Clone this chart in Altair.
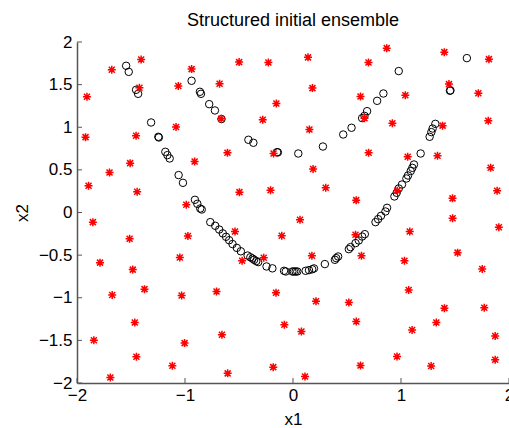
import altair as alt
import pandas as pd

# Red asterisks (x1, x2)
star_x = [-1.406, -1.678, -0.939, -1.908, -1.422, -1.062, -0.680, -0.665, -1.921, -1.453,
          -1.083, -1.508, -1.699, -0.911, -1.893, -1.443, -0.988, -0.499, -0.228, 0.139,
          0.699, 0.868, 0.180, -0.154, 0.625, -0.280, 0.152, -0.607, -0.180, 0.700,
          0.186, 0.303, -0.496, -0.208, 0.585, 1.401, 1.814, 1.444, 1.040, 1.716,
          0.920, 1.385, 1.808, 1.062, 1.338, 1.830, 0.965, 1.890, 1.477, 0.662,
          -1.853, -1.513, -0.973, -1.787, -1.484, -1.048, -1.674, -1.375, -1.031, -0.708,
          -1.465, -1.844, -1.004, -0.658, -1.450, -1.117, -1.691, -0.605, 0.065, -0.537,
          -0.104, 0.579, -0.271, -0.471, 0.175, 0.634, -0.157, 0.213, 0.517, -0.080,
          0.078, 0.586, -0.183, 0.111, 0.625, 1.478, 1.906, 1.081, 1.032, 1.524,
          1.752, 1.071, 1.402, 1.771, 1.327, 1.103, 1.872, 0.963, 1.279, 1.872]
star_y = [1.795, 1.674, 1.682, 1.357, 1.463, 1.483, 1.510, 1.099, 0.884, 0.900,
          1.002, 0.579, 0.469, 0.598, 0.313, 0.243, 0.092, 1.764, 1.760, 1.820,
          1.760, 1.928, 1.459, 1.279, 1.361, 1.087, 0.974, 0.700, 0.692, 0.700,
          0.511, 0.291, 0.239, 0.260, 0.145, 1.881, 1.799, 1.506, 1.375, 1.398,
          1.046, 1.019, 1.076, 0.653, 0.665, 0.525, 0.255, 0.255, 0.166, 1.105,
          -0.113, -0.309, -0.275, -0.588, -0.670, -0.528, -0.967, -0.899, -0.973, -0.926,
          -1.290, -1.499, -1.532, -1.435, -1.692, -1.798, -1.935, -1.887, -0.084, -0.223,
          -0.273, -0.262, -0.531, -0.567, -0.508, -0.508, -0.942, -1.040, -1.056, -1.317,
          -1.396, -1.279, -1.814, -1.924, -1.795, -0.068, -0.174, -0.223, -0.567, -0.471,
          -0.662, -0.909, -1.122, -1.118, -1.290, -1.378, -1.448, -1.689, -1.800, -1.728]

# Black circles (x1, x2)
circ_x = [-1.545, -1.521, -1.453, -1.434, -1.314, -1.247, -1.242, -1.182, -1.163, -1.142,
          -1.059, -1.019, -0.908, -0.886, -0.859, -0.845, -0.766, -0.720, -0.683, -0.650,
          -0.620, -0.591, -0.560, -0.520, -0.483, -0.420, -0.395, -0.375, -0.360, -0.340,
          -0.322, -0.245, -0.191, -0.083, -0.067, -0.006, 0.009, 0.025, 0.040, 0.117,
          0.148, 0.178, 0.194, 0.295, 0.388, 0.400, 0.418, 0.517, 0.533, 0.579,
          0.609, 0.640, 0.665, 0.764, 0.788, 0.815, 0.856, 0.871, 0.939, 0.960,
          0.979, 1.009, 1.050, 1.065, 1.090, 1.105, 1.120, 1.182, 1.265, 1.281,
          1.293, 1.318, 1.453, 1.458,
          -0.939, -0.862, -0.852, -0.776, -0.723, -0.662, -0.413, -0.367, -0.147, -0.140,
          0.049, 0.277, 0.465, 0.542, 0.640, 0.662, 0.686, 0.779, 0.837, 0.979, 1.610]
circ_y = [1.721, 1.650, 1.439, 1.392, 1.056, 0.888, 0.880, 0.712, 0.673, 0.634,
          0.439, 0.348, 0.149, 0.102, 0.047, 0.035, -0.113, -0.156, -0.200, -0.245,
          -0.285, -0.325, -0.370, -0.415, -0.455, -0.505, -0.525, -0.540, -0.555, -0.570,
          -0.582, -0.633, -0.655, -0.684, -0.692, -0.692, -0.692, -0.692, -0.692, -0.684,
          -0.676, -0.666, -0.656, -0.605, -0.555, -0.535, -0.516, -0.430, -0.406, -0.359,
          -0.328, -0.282, -0.254, -0.113, -0.078, -0.039, 0.012, 0.055, 0.188, 0.231,
          0.282, 0.328, 0.399, 0.434, 0.486, 0.524, 0.563, 0.692, 0.888, 0.943,
          0.985, 1.040, 1.428, 1.432,
          1.545, 1.416, 1.392, 1.271, 1.197, 1.096, 0.853, 0.818, 0.708, 0.705,
          0.692, 0.774, 0.915, 0.994, 1.107, 1.134, 1.189, 1.310, 1.396, 1.659, 1.811]

x_ticks = [-2, -1, 0, 1, 2]
y_ticks = [-2, -1.5, -1, -0.5, 0, 0.5, 1, 1.5, 2]

FONT = "Liberation Sans"
W, H = 432, 341
AXC = "#555555"

stars = pd.DataFrame({"x1": star_x, "x2": star_y})
circs = pd.DataFrame({"x1": circ_x, "x2": circ_y})
xt = pd.DataFrame({"x1": x_ticks})
yt = pd.DataFrame({"x2": y_ticks})

xscale = alt.Scale(domain=[-2, 2], nice=False, zero=False)
yscale = alt.Scale(domain=[-2, 2], nice=False, zero=False)

x_axis = alt.Axis(values=x_ticks, title="x1", grid=False, ticks=False, tickSize=0, format="~g",
                  labelPadding=4, labelFontSize=17, labelFont=FONT, labelColor="black",
                  titleFontSize=17, titleFont=FONT, titleFontWeight="normal", titleColor="black",
                  titleBaseline="alphabetic", titleY=41,
                  domainColor=AXC, domainWidth=1.5, labelFlush=False, labelOverlap=False)
y_axis = alt.Axis(values=y_ticks, title="x2", grid=False, ticks=False, tickSize=0, format="~g",
                  labelPadding=5, labelFontSize=17, labelFont=FONT, labelColor="black",
                  titleFontSize=17, titleFont=FONT, titleFontWeight="normal", titleColor="black",
                  titleBaseline="alphabetic", titleX=-50, titleY=H / 2,
                  domainColor=AXC, domainWidth=1.5, labelFlush=False, labelOverlap=False)

X = alt.X("x1:Q", scale=xscale, axis=x_axis)
Y = alt.Y("x2:Q", scale=yscale, axis=y_axis)

circle_layer = alt.Chart(circs).mark_point(
    shape="circle", filled=False, color="black", size=56, strokeWidth=1, opacity=1
).encode(x=X, y=Y)

ASTER = "M-1,0L1,0M0,-1L0,1M-0.75,-0.75L0.75,0.75M-0.75,0.75L0.75,-0.75"
star_layer = alt.Chart(stars).mark_point(
    shape=ASTER, filled=False, color="#ff0000", size=64, strokeWidth=1.5, opacity=1
).encode(x=X, y=Y)

xtick_layer = alt.Chart(xt).mark_rule(color=AXC, strokeWidth=1).encode(
    x=X,
    y=alt.value(H),
    y2=alt.value(H - 5),
)
ytick_layer = alt.Chart(yt).mark_rule(color=AXC, strokeWidth=1).encode(
    y=Y,
    x=alt.value(0),
    x2=alt.value(5),
)

chart = alt.layer(circle_layer, star_layer, xtick_layer, ytick_layer).properties(
    width=W,
    height=H,
    title=alt.TitleParams("Structured initial ensemble", font=FONT, fontSize=18,
                          fontWeight="normal", color="black", anchor="middle", offset=3),
    autosize=alt.AutoSizeParams(type="none"),
    padding={"left": 77, "top": 42, "right": 0, "bottom": 45},
    background="white",
).configure_view(stroke=None)

chart.save("out.html", embed_options={"renderer": "svg", "actions": False})
